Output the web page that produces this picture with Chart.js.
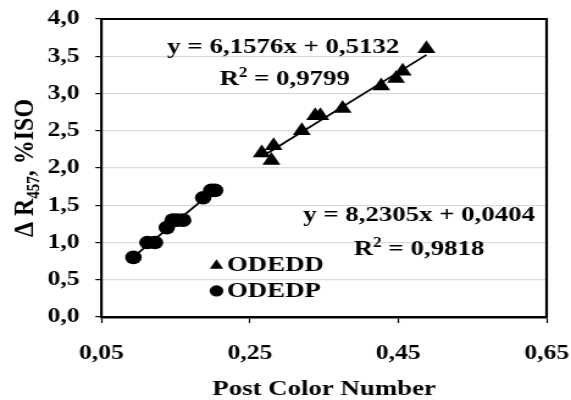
<!DOCTYPE html>
<html>
<head>
<meta charset="utf-8">
<script src="https://cdn.jsdelivr.net/npm/chart.js@4/dist/chart.umd.min.js"></script>
<style>
  html, body { margin: 0; padding: 0; background: #fff; }
  #chart { display: block; }
</style>
</head>
<body>
<!-- drawn on a narrower canvas and stretched to 571px wide -->
<canvas id="chart" width="468" height="400" style="width:571px;height:400px"></canvas>
<script>
// ODEDD (triangles)
const ddX = [0.266, 0.282, 0.279, 0.320, 0.338, 0.345, 0.375, 0.427, 0.447, 0.456, 0.488];
const ddY = [2.2, 2.3, 2.1, 2.5, 2.7, 2.7, 2.8, 3.1, 3.2, 3.3, 3.6];
const ddSlope = 6.1576, ddIntercept = 0.5132, ddR2 = 0.9799;

// ODEDP (circles)
const dpX = [0.093, 0.112, 0.122, 0.138, 0.146, 0.152, 0.160, 0.187, 0.198, 0.203];
const dpY = [0.8, 1.0, 1.0, 1.2, 1.3, 1.3, 1.3, 1.6, 1.7, 1.7];
const dpSlope = 8.2305, dpIntercept = 0.0404, dpR2 = 0.9818;

const xTicks = [0.05, 0.25, 0.45, 0.65];
const yTicks = [0, 0.5, 1, 1.5, 2, 2.5, 3, 3.5, 4];

const FONT = 'Liberation Serif, Times New Roman, serif';
const comma = (v, d) => v.toFixed(d).replace('.', ',');

const points = (xs, ys) => xs.map((x, i) => ({ x, y: ys[i] }));
function trend(xs, a, b) {
    const lo = Math.min(...xs), hi = Math.max(...xs);
    return [{ x: lo, y: a * lo + b }, { x: hi, y: a * hi + b }];
}

// equation text, trendline labels, legend, y title and the box edges
const extras = {
    id: 'extras',
    afterDraw(chart) {
        const ctx = chart.ctx;
        const xs = chart.scales.x, ys = chart.scales.y;
        const area = chart.chartArea;
        const px = v => xs.getPixelForValue(v);
        const py = v => ys.getPixelForValue(v);

        ctx.save();
        // top and right frame
        ctx.strokeStyle = '#000';
        ctx.lineWidth = 2.2;
        ctx.beginPath();
        ctx.moveTo(area.left, area.top);
        ctx.lineTo(area.right, area.top);
        ctx.lineTo(area.right, area.bottom);
        ctx.stroke();

        ctx.fillStyle = '#000';
        ctx.textBaseline = 'alphabetic';
        const big = 'bold 22px ' + FONT;
        const sup = 'bold 14px ' + FONT;

        function equation(a, b, cx, base) {
            ctx.font = big;
            ctx.textAlign = 'center';
            ctx.fillText('y = ' + comma(a, 4) + 'x + ' + comma(b, 4), px(cx), py(base));
        }
        function rsq(r, cx, base) {
            const t1 = 'R', t2 = '2', t3 = ' = ' + comma(r, 4);
            ctx.font = big; const w1 = ctx.measureText(t1).width, w3 = ctx.measureText(t3).width;
            ctx.font = sup; const w2 = ctx.measureText(t2).width;
            let x = px(cx) - (w1 + w2 + w3) / 2;
            const y = py(base);
            ctx.textAlign = 'left';
            ctx.font = big; ctx.fillText(t1, x, y); x += w1;
            ctx.font = sup; ctx.fillText(t2, x, y - 8); x += w2;
            ctx.font = big; ctx.fillText(t3, x, y);
        }
        equation(ddSlope, ddIntercept, 0.295, 3.544);
        rsq(ddR2, 0.297, 3.114);
        equation(dpSlope, dpIntercept, 0.478, 1.289);
        rsq(dpR2, 0.478, 0.832);

        // legend
        const mx = px(0.205);
        let my = py(0.69);
        const tr = 6.3;
        ctx.beginPath();
        ctx.moveTo(mx, my - tr);
        ctx.lineTo(mx + tr * 0.866, my + tr * 0.5);
        ctx.lineTo(mx - tr * 0.866, my + tr * 0.5);
        ctx.closePath();
        ctx.fill();
        my = py(0.35);
        ctx.beginPath();
        ctx.arc(mx, my, 5.6, 0, Math.PI * 2);
        ctx.fill();
        ctx.font = big;
        ctx.textAlign = 'left';
        ctx.fillText('ODEDD', px(0.219), py(0.62));
        ctx.fillText('ODEDP', px(0.219), py(0.27));

        // y axis title with subscript
        const tBig = 'bold 24px ' + FONT, tSub = 'bold 15px ' + FONT;
        const parts = [['Δ R', tBig, 0], ['457', tSub, 5], [', %ISO', tBig, 0]];
        let total = 0;
        parts.forEach(p => { ctx.font = p[1]; p.push(ctx.measureText(p[0]).width); total += p[3]; });
        ctx.translate(26.5, (area.top + area.bottom) / 2);
        ctx.rotate(-Math.PI / 2);
        let tx = -total / 2;
        parts.forEach(p => {
            ctx.font = p[1];
            ctx.fillText(p[0], tx, p[2]);
            tx += p[3];
        });
        ctx.restore();
    }
};

const chart = new Chart(document.getElementById('chart'), {
    type: 'scatter',
    data: {
        datasets: [
            {
                label: 'ODEDD',
                data: points(ddX, ddY),
                pointStyle: 'triangle',
                pointRadius: 8.5,
                backgroundColor: '#000',
                borderColor: '#000',
                borderWidth: 0
            },
            {
                label: 'ODEDP',
                data: points(dpX, dpY),
                pointStyle: 'circle',
                pointRadius: 6.8,
                backgroundColor: '#000',
                borderColor: '#000',
                borderWidth: 0
            },
            {
                type: 'line',
                data: trend(ddX, ddSlope, ddIntercept),
                borderColor: '#000',
                borderWidth: 1.8,
                pointRadius: 0,
                fill: false
            },
            {
                type: 'line',
                data: trend(dpX, dpSlope, dpIntercept),
                borderColor: '#000',
                borderWidth: 1.8,
                pointRadius: 0,
                fill: false
            }
        ]
    },
    options: {
        responsive: false,
        animation: false,
        events: [],
        layout: { autoPadding: false, padding: { top: 19, right: 20, left: 0, bottom: 0 } },
        plugins: {
            legend: { display: false },
            tooltip: { enabled: false }
        },
        scales: {
            x: {
                type: 'linear',
                min: 0.05,
                max: 0.65,
                afterBuildTicks: s => { s.ticks = xTicks.map(v => ({ value: v })); },
                afterFit: s => { s.height = 83; s.paddingLeft = 0; s.paddingRight = 0; },
                grid: { drawOnChartArea: false, drawTicks: true, tickLength: 6, tickColor: '#000', tickWidth: 1.2 },
                border: { color: '#000', width: 2.5 },
                ticks: {
                    color: '#000',
                    padding: 18,
                    maxRotation: 0,
                    font: { family: FONT, size: 21, weight: 'bold' },
                    callback: v => comma(v, 2)
                },
                title: {
                    display: true,
                    text: 'Post Color Number',
                    color: '#000',
                    padding: { top: 0, bottom: -3 },
                    font: { family: FONT, size: 22, weight: 'bold' }
                }
            },
            y: {
                min: 0,
                max: 4,
                afterBuildTicks: s => { s.ticks = yTicks.map(v => ({ value: v })); },
                afterFit: s => { s.width = 83.2; s.paddingTop = 0; s.paddingBottom = 0; },
                grid: { color: '#d6dedd', lineWidth: 1.2, drawTicks: true, tickLength: 5, tickColor: '#000', tickWidth: 1.2 },
                border: { color: '#000', width: 2.2 },
                ticks: {
                    color: '#000',
                    padding: 13,
                    font: { family: FONT, size: 21, weight: 'bold' },
                    callback: v => comma(v, 1)
                }
            }
        }
    },
    plugins: [extras]
});
chart.canvas.style.width = '571px';
chart.canvas.style.height = '400px';
</script>
</body>
</html>
